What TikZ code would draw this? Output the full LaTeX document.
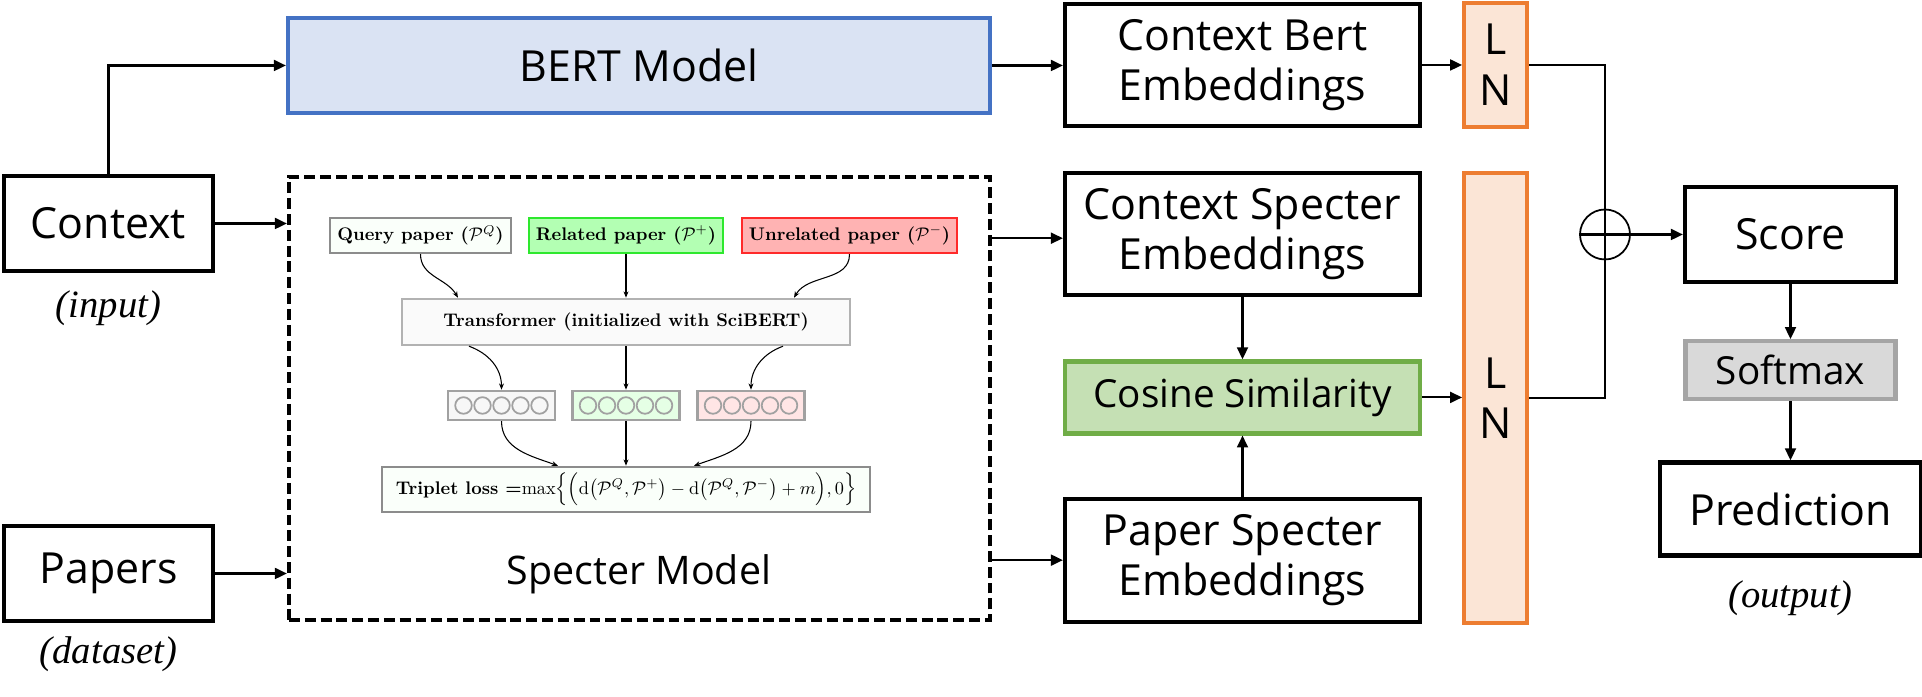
\documentclass[tikz,border=0pt]{standalone}
\usepackage{amsmath,amssymb}
\usepackage{graphicx}
\usepackage{fontspec}
\newfontfamily\osans{Open Sans}
\newfontfamily\tserif{Liberation Serif}
\usepackage{xcolor}
\usepackage{tikz}
\usetikzlibrary{positioning,arrows.meta,calc}
\definecolor{bertline}{HTML}{4472C4}
\definecolor{bertfill}{HTML}{DAE3F3}
\definecolor{lnline}{HTML}{ED7D31}
\definecolor{lnfill}{HTML}{FBE5D6}
\definecolor{cosline}{HTML}{70AD47}
\definecolor{cosfill}{HTML}{C5E0B4}
\definecolor{smline}{HTML}{A5A5A5}
\definecolor{smfill}{HTML}{D9D9D9}
\definecolor{relline}{HTML}{2EE82E}
\definecolor{relfill}{HTML}{B3FFB3}
\definecolor{unrline}{HTML}{FF2A2A}
\definecolor{unrfill}{HTML}{FFB3B3}
\newcommand{\mfont}{\osans\fontsize{12.2}{14.4}\selectfont}
\newcommand{\itext}[1]{\scalebox{0.52}{\bfseries #1}}
\newcommand{\cP}{\mathcal{P}}

\begin{document}
\begin{tikzpicture}[
  every node/.style={align=center, inner sep=0pt},
  box/.style={draw, line width=1.2pt, font=\mfont, minimum height=0.95cm},
  bertbox/.style={box, draw=bertline, fill=bertfill},
  lnbox/.style={box, draw=lnline, fill=lnfill, minimum width=0.63cm},
  cosbox/.style={box, draw=cosline, fill=cosfill, font=\osans\fontsize{11}{13}\selectfont},
  smbox/.style={box, draw=smline, fill=smfill, font=\osans\fontsize{11}{13}\selectfont},
  specbox/.style={draw, line width=1.2pt, dash pattern=on 3.1pt off 1.4pt},
  lbl/.style={font=\tserif\itshape\fontsize{11}{13}\selectfont},
  ibox/.style={draw, line width=0.7pt, minimum height=0.35cm},
  vecbox/.style={draw=black!37, line width=0.7pt, minimum width=1.07cm, minimum height=0.29cm},
  arr/.style={-{Triangle[length=3.4pt,width=3.1pt]}, line width=0.6pt},
  iarr/.style={-{Stealth[length=1.8pt,width=1.4pt]}, line width=0.3pt}
]
  \useasboundingbox (0,0) rectangle (19.22,-6.97);

  % inputs
  \node[box, minimum width=2.09cm] (ctx) at (1.085,-2.235) {Context};
  \node[box, minimum width=2.09cm] (pap) at (1.085,-5.735) {Papers};
  \node[lbl, below=0.17cm of ctx] (inlbl) {(input)};
  \node[lbl, below=0.13cm of pap] (dslbl) {(dataset)};

  % encoders
  \node[bertbox, minimum width=7.02cm] (bert) at (6.39,-0.655) {BERT Model};
  \node[specbox, minimum width=7.01cm, minimum height=4.43cm] (spec) at (6.395,-3.985) {};
  \node[font=\osans\fontsize{11.2}{13}\selectfont] (speclbl) at (6.39,-5.74) {Specter Model};

  % specter inside
  \node[ibox, draw=black!45, fill=green!2, minimum width=1.81cm] (qry) at (4.205,-2.355) {\itext{Query paper ($\cP^Q$)}};
  \node[ibox, draw=relline, fill=relfill, minimum width=1.94cm] (rel) at (6.26,-2.355) {\itext{Related paper ($\cP^+$)}};
  \node[ibox, draw=unrline, fill=unrfill, minimum width=2.15cm] (unr) at (8.495,-2.355) {\itext{Unrelated paper ($\cP^-$)}};
  \node[ibox, draw=black!30, fill=black!2, minimum width=4.48cm, minimum height=0.46cm] (trf) at (6.26,-3.22) {\itext{Transformer (initialized with SciBERT)}};
  \node[vecbox, fill=black!3] (vq) at (5.015,-4.055) {};
  \node[vecbox, fill=green!10] (vp) at (6.26,-4.055) {};
  \node[vecbox, fill=red!10] (vn) at (7.51,-4.055) {};
  \foreach \v in {vq,vp,vn}
    \foreach \k in {-2,...,2}
      \draw[black!37, line width=0.5pt] ([xshift=\k*0.19cm]\v.center) circle (0.083cm);
  \node[ibox, draw=black!45, fill=green!2, minimum width=4.88cm, minimum height=0.45cm] (loss) at (6.26,-4.895)
    {\itext{Triplet loss =$\max\Bigl\{\Bigl(\mathrm{d}\bigl(\cP^Q,\cP^+\bigr)-\mathrm{d}\bigl(\cP^Q,\cP^-\bigr)+m\Bigr),0\Bigr\}$}};

  \draw[iarr] (qry.south) to[out=-90,in=120] ([xshift=-1.68cm]trf.north);
  \draw[iarr] (rel.south) -- (trf.north);
  \draw[iarr] (unr.south) to[out=-90,in=60] ([xshift=1.68cm]trf.north);
  \draw[iarr] ([xshift=-1.57cm]trf.south) to[out=-20,in=90] (vq.north);
  \draw[iarr] (trf.south) -- (vp.north);
  \draw[iarr] ([xshift=1.57cm]trf.south) to[out=-160,in=90] (vn.north);
  \draw[iarr] (vq.south) to[out=-90,in=160] ([xshift=-0.68cm]loss.north);
  \draw[iarr] (vp.south) -- (loss.north);
  \draw[iarr] (vn.south) to[out=-90,in=20] ([xshift=0.68cm]loss.north);

  % embeddings
  \node[box, minimum width=3.55cm, minimum height=1.22cm] (cbert) at (12.425,-0.65) {Context Bert\\Embeddings};
  \node[box, minimum width=3.55cm, minimum height=1.22cm, below=0.43cm of cbert] (cspec) {Context Specter\\Embeddings};
  \node[cosbox, minimum width=3.55cm, minimum height=0.72cm, below=0.62cm of cspec] (cos) {Cosine Similarity};
  \node[box, minimum width=3.55cm, minimum height=1.23cm, below=0.61cm of cos] (pspec) {Paper Specter\\Embeddings};
  \node[lnbox, minimum height=1.24cm, right=0.40cm of cbert] (ln1) {L\\N};
  \node[lnbox, minimum height=4.5cm, below=0.42cm of ln1] (ln2) {L\\N};

  % output side
  \node[draw, circle, line width=0.5pt, minimum size=0.5cm] (oplus) at (16.05,-2.345) {};
  \node[box, minimum width=2.11cm, right=0.52cm of oplus] (score) {Score};
  \node[smbox, minimum width=2.10cm, minimum height=0.58cm, below=0.55cm of score] (smax) {Softmax};
  \node[box, minimum width=2.61cm, minimum height=0.93cm, below=0.59cm of smax] (pred) {Prediction};
  \node[lbl, below=0.22cm of pred] (outlbl) {(output)};

  \draw[arr] (ctx.north) |- (bert.west);
  \draw[arr] (ctx.east) -- (ctx.east -| spec.west);
  \draw[arr] (pap.east) -- (pap.east -| spec.west);
  \draw[arr] (bert.east) -- (bert.east -| cbert.west);
  \draw[arr] ([yshift=-0.04cm]cspec.west -| spec.east) -- ([yshift=-0.04cm]cspec.west);
  \draw[arr] (pspec.west -| spec.east) -- (pspec.west);
  \draw[arr] (cspec.south) -- (cos.north);
  \draw[arr] (pspec.north) -- (cos.south);
  \draw[arr] (cbert.east) -- (ln1.west);
  \draw[arr] (cos.east) -- (cos.east -| ln2.west);
  \draw[line width=0.6pt] (ln1.east) -| (oplus.center) |- (ln2.east);
  \draw[arr] (oplus.west) -- (score.west);
  \draw[arr] (score.south) -- (smax.north);
  \draw[arr] (smax.south) -- (pred.north);
\end{tikzpicture}
\end{document}
